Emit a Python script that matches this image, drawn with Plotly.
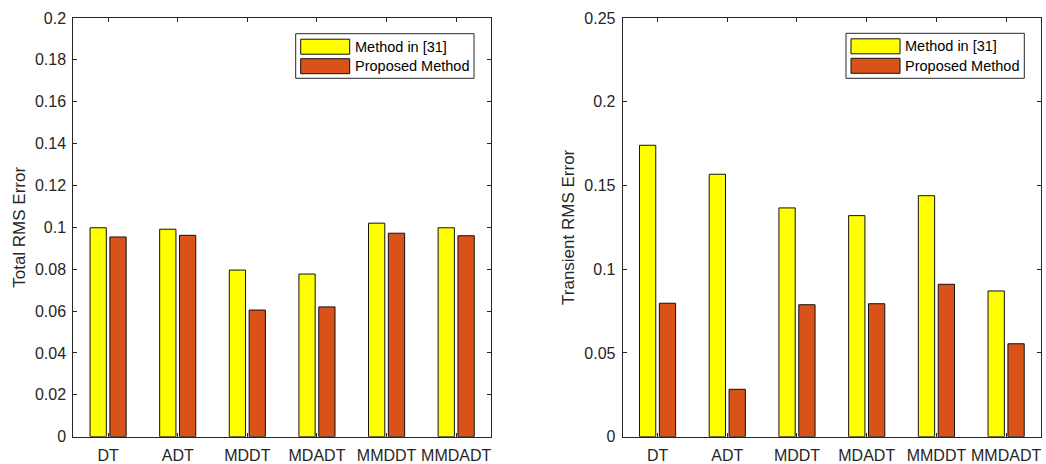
import plotly.graph_objects as go
from plotly.subplots import make_subplots

categories = ["DT", "ADT", "MDDT", "MDADT", "MMDDT", "MMDADT"]
series_names = ["Method in [31]", "Proposed Method"]
total_method31 = [0.0998, 0.0991, 0.0796, 0.0777, 0.1020, 0.0998]
total_proposed = [0.0954, 0.0962, 0.0605, 0.0620, 0.0972, 0.0960]
trans_method31 = [0.1740, 0.1567, 0.1366, 0.1320, 0.1439, 0.0870]
trans_proposed = [0.0797, 0.0283, 0.0788, 0.0794, 0.0910, 0.0555]
left_yticks = [0, 0.02, 0.04, 0.06, 0.08, 0.1, 0.12, 0.14, 0.16, 0.18, 0.2]
left_yticklabels = ["0", "0.02", "0.04", "0.06", "0.08", "0.1", "0.12", "0.14", "0.16", "0.18", "0.2"]
right_yticks = [0, 0.05, 0.1, 0.15, 0.2, 0.25]
right_yticklabels = ["0", "0.05", "0.1", "0.15", "0.2", "0.25"]

YELLOW = "#FFFF00"
ORANGE = "#D95319"
AXC = "#262626"
FONT = "Liberation Sans, Arial, Helvetica, sans-serif"
W, H = 1046, 464

fig = make_subplots(rows=1, cols=2)

for col, (a, b) in enumerate([(total_method31, total_proposed), (trans_method31, trans_proposed)], start=1):
    fig.add_trace(go.Bar(x=categories, y=a, name=series_names[0], marker=dict(color=YELLOW, line=dict(color="#111111", width=1)), showlegend=False), row=1, col=col)
    fig.add_trace(go.Bar(x=categories, y=b, name=series_names[1], marker=dict(color=ORANGE, line=dict(color="#111111", width=1)), showlegend=False), row=1, col=col)

def px(x):
    return x / W

def py(y):
    return 1 - y / H

ax_common = dict(showline=True, linecolor=AXC, linewidth=1, mirror="ticks", ticks="inside", ticklen=4,
                 tickcolor=AXC, showgrid=False, zeroline=False, automargin=False,
                 tickfont=dict(size=16, color=AXC, family=FONT))

fig.update_xaxes(**ax_common, range=[-0.5, 5.5], ticklabelstandoff=4)
fig.update_xaxes(domain=[px(73.3), px(491)], row=1, col=1)
fig.update_xaxes(domain=[px(622.7), px(1041)], row=1, col=2)
fig.update_yaxes(**ax_common, ticklabelstandoff=3)
fig.update_yaxes(domain=[py(436.7), py(18)])
fig.update_yaxes(range=[0, 0.2], tickvals=left_yticks, ticktext=left_yticklabels,
                 title=dict(text="Total RMS Error", font=dict(size=17, color=AXC, family=FONT), standoff=5), row=1, col=1)
fig.update_yaxes(range=[0, 0.25], tickvals=right_yticks, ticktext=right_yticklabels,
                 title=dict(text="Transient RMS Error", font=dict(size=17, color=AXC, family=FONT), standoff=5), row=1, col=2)

# legends drawn as boxes + swatches + text
shapes = []
annotations = []
for (bx0, bx1, by0, by1) in [(295.7, 474, 33.7, 78.3), (846, 1024.3, 33.3, 78.3)]:
    shapes.append(dict(type="rect", xref="paper", yref="paper", x0=px(bx0), x1=px(bx1), y0=py(by1), y1=py(by0),
                       line=dict(color=AXC, width=1), fillcolor="white", layer="above"))
    sx0 = bx0 + 5
    sx1 = sx0 + 49
    for i, (name, color) in enumerate(zip(series_names, [YELLOW, ORANGE])):
        cy = by0 + 13 + i * 19.5
        shapes.append(dict(type="rect", xref="paper", yref="paper", x0=px(sx0), x1=px(sx1), y0=py(cy + 7.5), y1=py(cy - 7.5),
                           line=dict(color="#111111", width=1), fillcolor=color, layer="above"))
        annotations.append(dict(text=name, xref="paper", yref="paper", x=px(sx1 + 3), y=py(cy), xanchor="left", yanchor="middle",
                                showarrow=False, font=dict(size=14.5, color="#000000", family=FONT)))

fig.update_layout(
    width=W, height=H, margin=dict(l=0, r=0, t=0, b=0),
    paper_bgcolor="white", plot_bgcolor="white",
    barmode="group", bargap=0.43, bargroupgap=0.18,
    showlegend=False, shapes=shapes, annotations=annotations,
    font=dict(family=FONT, color=AXC),
)

fig.write_html("out.html")
